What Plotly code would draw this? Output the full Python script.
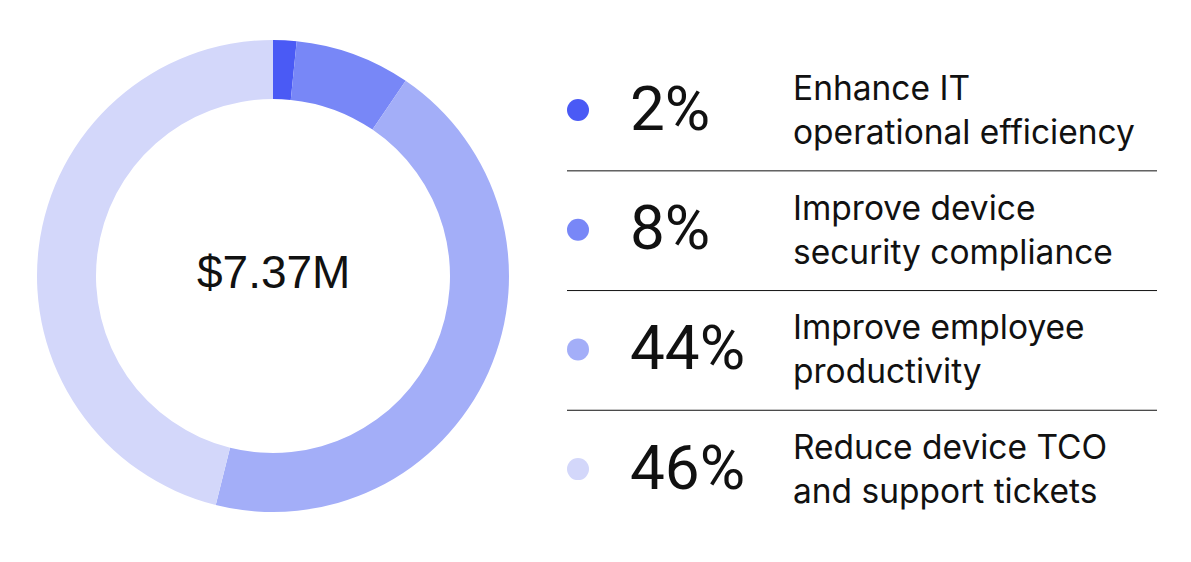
import plotly.graph_objects as go

categories = ["Enhance IT operational efficiency", "Improve device security compliance",
              "Improve employee productivity", "Reduce device TCO and support tickets"]
label_line1 = ["Enhance IT", "Improve device", "Improve employee", "Reduce device TCO"]
label_line2 = ["operational efficiency", "security compliance", "productivity", "and support tickets"]
values = [1.6, 7.9, 44.4, 46.1]   # slice shares as drawn (labels are rounded)
pct_labels = ["2%", "8%", "44%", "46%"]
colors = ["#4A5AF5", "#7887F7", "#A3AEF8", "#D3D7FA"]
center_label = "$7.37M"

W, H = 1191, 562
OFF = 8  # page body margin
cx, cy, R = 273 - OFF, 276 - OFF, 236

fig = go.Figure()
fig.add_trace(go.Pie(
    labels=categories, values=values, hole=0.75, sort=False, direction="clockwise",
    rotation=0, marker=dict(colors=colors, line=dict(width=0)),
    textinfo="none", hoverinfo="label+percent", showlegend=False,
    domain=dict(x=[(cx - R) / W, (cx + R) / W], y=[1 - (cy + R) / H, 1 - (cy - R) / H]),
))

row0, step = 110 - OFF, 119.7
rows = [row0 + i * step for i in range(len(values))]

fig.add_trace(go.Scatter(
    x=[578 - OFF] * len(values), y=rows, mode="markers",
    marker=dict(size=22, color=colors), hoverinfo="skip", showlegend=False,
    xaxis="x", yaxis="y",
))

annotations = [dict(text=center_label, x=cx, y=cy - 4, xref="x", yref="y", showarrow=False,
                    font=dict(family="Liberation Sans", size=46, color="#111111"))]
shapes = []
for i, y in enumerate(rows):
    annotations.append(dict(text=pct_labels[i], x=628 - OFF, y=y - 2, xref="x", yref="y", xanchor="left",
                            showarrow=False, font=dict(family="Roboto", size=62, color="#111111")))
    annotations.append(dict(text=label_line1[i], x=791 - OFF, y=y - 22, xref="x", yref="y", xanchor="left",
                            showarrow=False, font=dict(family="Inter", size=33.5, color="#111111")))
    annotations.append(dict(text=label_line2[i], x=791 - OFF, y=y + 22, xref="x", yref="y", xanchor="left",
                            showarrow=False, font=dict(family="Inter", size=33.5, color="#111111")))
    if i < len(rows) - 1:
        ly = y + step / 2 + 1
        shapes.append(dict(type="line", x0=567 - OFF, x1=1157 - OFF, y0=ly, y1=ly, xref="x", yref="y",
                           line=dict(color="#111111", width=1)))

fig.update_layout(
    width=W, height=H, margin=dict(l=0, r=0, t=0, b=0),
    paper_bgcolor="white", plot_bgcolor="rgba(0,0,0,0)",
    xaxis=dict(range=[0, W], visible=False, fixedrange=True),
    yaxis=dict(range=[H, 0], visible=False, fixedrange=True),
    annotations=annotations, shapes=shapes,
)

fig.write_html("out.html")
